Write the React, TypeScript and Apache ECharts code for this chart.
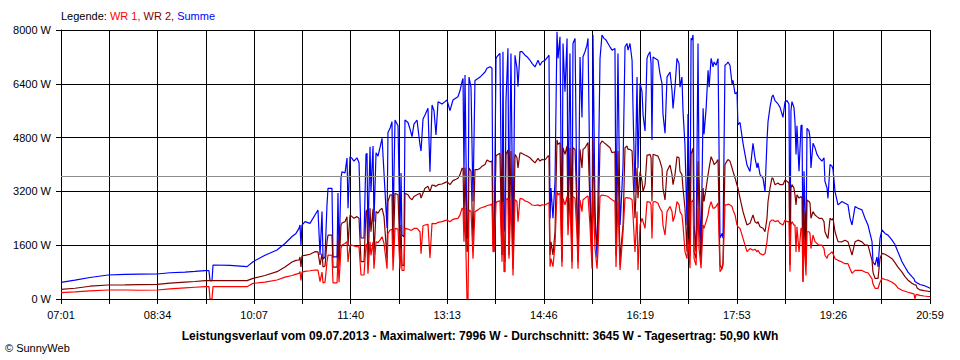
import React, { useEffect, useRef } from "react";
import * as echarts from "echarts";

// minutes after 07:01
const minutes = [
  0, 13.5, 28.0, 45.3, 61.7, 76.2, 92.6, 105.1, 119.6, 129.2,
  138.9, 142.7, 143.7, 145.6, 146.6, 163.0, 179.4, 185.2, 196.7, 208.3,
  216.0, 222.8, 226.6, 229.5, 230.5, 231.4, 232.4, 235.3, 240.1, 244.9,
  247.8, 249.8, 251.7, 252.7, 254.6, 256.5, 257.5, 261.3, 262.3, 266.2,
  267.1, 268.1, 270.0, 271.0, 273.9, 275.8, 276.8, 278.7, 280.6, 282.5,
  285.4, 287.4, 289.3, 292.2, 294.1, 295.1, 296.0, 298.0, 298.9, 300.9,
  301.8, 303.8, 305.7, 307.6, 309.6, 311.5, 314.4, 315.3, 317.3, 319.2,
  320.2, 322.1, 325.0, 326.9, 327.9, 328.8, 330.8, 331.7, 334.6, 336.6,
  338.5, 340.4, 343.3, 346.2, 347.2, 349.1, 351.0, 353.9, 355.8, 357.8,
  359.7, 361.6, 363.6, 367.4, 370.3, 372.2, 375.1, 378.0, 380.9, 382.8,
  384.8, 386.7, 387.7, 388.6, 389.6, 391.5, 392.5, 393.4, 395.4, 397.3,
  399.2, 402.1, 404.1, 406.0, 408.9, 410.8, 413.7, 415.6, 416.6, 417.6,
  419.5, 420.4, 423.3, 425.3, 426.2, 427.2, 428.2, 429.1, 431.0, 432.0,
  433.9, 435.9, 437.8, 439.7, 440.7, 442.6, 444.6, 447.4, 449.4, 452.3,
  454.2, 457.1, 460.0, 461.9, 463.8, 466.7, 469.6, 470.6, 471.6, 472.5,
  474.4, 476.4, 478.3, 479.3, 481.2, 483.1, 484.1, 486.0, 488.0, 488.9,
  490.8, 492.8, 493.7, 495.7, 497.6, 498.6, 500.5, 502.4, 503.4, 505.3,
  507.2, 508.2, 510.1, 512.1, 513.0, 515.0, 516.9, 517.8, 519.8, 521.7,
  523.6, 525.6, 527.5, 529.4, 531.4, 534.2, 535.2, 537.1, 539.1, 540.0,
  542.0, 543.9, 545.8, 546.8, 548.7, 550.7, 551.6, 553.5, 555.5, 556.4,
  558.4, 560.3, 561.3, 563.2, 565.1, 566.1, 568.0, 569.0, 569.9, 570.9,
  572.8, 575.7, 577.6, 579.6, 580.5, 582.5, 584.4, 587.3, 589.2, 590.2,
  592.1, 594.0, 596.0, 596.9, 598.8, 599.8, 601.7, 603.7, 604.6, 606.6,
  607.6, 608.5, 609.5, 610.5, 612.4, 614.3, 615.3, 617.2, 619.2, 620.1,
  622.1, 624.0, 625.0, 626.9, 628.8, 629.8, 631.7, 632.6, 633.6, 635.5,
  637.4, 638.4, 640.3, 642.2, 643.2, 645.1, 647.1, 648.0, 650.0, 651.9,
  652.8, 654.8, 657.7, 659.6, 661.5, 664.4, 667.3, 669.2, 671.2, 672.1,
  674.1, 677.0, 678.9, 680.8, 681.8, 683.7, 685.6, 686.6, 688.5, 691.4,
  693.4, 696.2, 698.2, 700.1, 702.0, 703.0, 703.9, 704.9, 706.8, 707.8,
  708.8, 709.7, 711.7, 713.6, 714.6, 715.5, 716.5, 718.4, 719.4, 721.3,
  722.3, 723.2, 725.2, 727.1, 729.0, 731.0, 733.8, 735.8, 736.7, 738.7,
  739.6, 741.6, 743.5, 744.5, 746.4, 749.3, 753.1, 756.0, 758.9, 760.9,
  762.8, 765.7, 768.6, 772.4, 775.3, 778.2, 782.1, 783.0, 785.0, 786.9,
  787.9, 789.8, 791.7, 794.6, 797.5, 801.4, 804.2, 807.1, 811.0, 813.9,
  816.8, 820.6, 822.6, 823.5, 824.5, 825.5, 828.4, 832.2, 836.1, 838.0,
];

const wr1 = [
  188, 210, 240, 268, 268, 260, 268, 300, 330, 350,
  367, 367, 0, 0, 367, 367, 367, 466, 500, 565,
  650, 700, 740, 763, 813, 550, 800, 820, 840, 862,
  860, 515, 800, 480, 500, 1100, 1308, 1300, 480, 480,
  1200, 500, 1500, 1606, 1650, 1705, 1100, 1606, 1600, 1580,
  1560, 1550, 714, 714, 1600, 1650, 750, 1705, 1300, 1700,
  900, 1700, 1680, 1750, 1853, 1650, 900, 1950, 2052, 2070,
  850, 2100, 2080, 900, 1500, 850, 850, 2102, 2080, 2050,
  2050, 2100, 2102, 2000, 1350, 2180, 2200, 2220, 1220, 2250,
  2240, 2240, 2280, 2300, 2330, 2349, 2300, 2370, 2390, 2399,
  2500, 2697, 2697, 1700, 2700, 0, 0, 2650, 2600, 1200,
  2600, 2650, 2700, 2720, 2746, 2780, 2800, 2820, 1407, 1407,
  2850, 2894, 2920, 1110, 2900, 813, 813, 2950, 2994, 1200,
  2950, 700, 2950, 2900, 2300, 2990, 2980, 2920, 2900, 2850,
  2796, 2780, 2800, 2770, 2800, 2796, 2850, 2860, 962, 1200,
  962, 1600, 3192, 3100, 3150, 962, 3000, 2800, 3050, 1900,
  3000, 900, 3050, 3000, 1900, 900, 2950, 2600, 2950, 3000,
  3050, 3060, 2200, 900, 3192, 1500, 900, 1400, 3050, 3093,
  3080, 3070, 3050, 3000, 2950, 2900, 950, 2900, 862, 1200,
  2000, 3000, 3020, 3000, 3000, 2950, 2500, 1400, 2600, 862,
  2200, 2400, 2300, 2100, 2894, 2890, 2880, 2800, 1800, 2880,
  2900, 2850, 2700, 2600, 2200, 1903, 2600, 2750, 2600, 2300,
  2500, 2894, 2800, 2600, 2500, 2200, 1407, 1200, 1800, 913,
  2900, 2900, 2950, 1200, 1000, 2700, 1500, 913, 2200, 2100,
  2300, 2500, 2700, 2894, 2700, 2700, 2750, 2800, 2850, 813,
  900, 1000, 2800, 2800, 2820, 2800, 2750, 2650, 2500, 2200,
  2150, 2100, 1804, 1600, 1407, 1500, 1450, 1480, 1400, 1450,
  1350, 1308, 1350, 1700, 2000, 2300, 2350, 2349, 2300, 2330,
  2250, 2200, 2349, 2300, 2300, 813, 2200, 2300, 2200, 2200,
  1400, 2150, 1400, 2100, 2100, 515, 1800, 700, 2000, 2000,
  1950, 1500, 1900, 1705, 1650, 1600, 1600, 1500, 1300, 1209,
  1300, 1350, 1400, 1350, 1200, 1150, 1100, 1050, 1050, 900,
  763, 850, 850, 850, 800, 780, 600, 450, 318, 318,
  318, 500, 615, 580, 560, 500, 440, 330, 260, 230,
  200, 169, 150, 0, 130, 130, 110, 90, 75, 69,
];

const wr2 = [
  288, 320, 380, 416, 420, 430, 436, 470, 500, 520,
  545, 545, 545, 545, 545, 545, 545, 615, 700, 813,
  950, 1100, 1150, 1160, 1250, 950, 1280, 1300, 1330, 1407,
  1400, 1011, 1350, 950, 980, 1700, 1903, 1900, 950, 950,
  1800, 960, 2200, 2260, 2300, 2448, 1600, 2498, 2450, 2400,
  2450, 2400, 1110, 1110, 2600, 2650, 1050, 2697, 2000, 2680,
  1300, 2600, 2550, 2650, 2697, 2450, 1200, 2900, 3093, 3100,
  1250, 3143, 3100, 1300, 2200, 1000, 1000, 3143, 3100, 3000,
  2950, 3050, 3100, 3143, 3000, 3150, 3292, 3350, 3192, 3390,
  3380, 3350, 3400, 3420, 3460, 3489, 3400, 3520, 3560, 3589,
  3700, 3886, 3886, 2300, 3900, 1407, 1450, 3900, 3800, 1700,
  3850, 3850, 3886, 3950, 4000, 4134, 4080, 4100, 1600, 1500,
  4250, 4283, 4330, 1308, 4350, 1400, 1100, 4300, 4431, 1300,
  4400, 900, 4300, 4200, 3900, 4350, 4330, 4283, 4250, 4200,
  4134, 4050, 4180, 4100, 4150, 4134, 4250, 4260, 1308, 1700,
  1308, 2000, 4729, 4600, 4650, 1110, 4500, 4300, 4550, 2200,
  4500, 1100, 4500, 4450, 2600, 1100, 4450, 3900, 4450, 4500,
  4600, 4650, 2800, 1308, 4779, 2200, 1600, 1800, 4600, 4700,
  4650, 4600, 4550, 4500, 4350, 4380, 1300, 4400, 1011, 1500,
  2200, 4500, 4550, 4450, 4450, 4400, 3700, 2400, 3900, 3000,
  3786, 3500, 3192, 3400, 4283, 4280, 4300, 4200, 2900, 4300,
  4283, 4250, 4100, 3886, 3300, 2944, 3800, 3985, 3700, 3400,
  3700, 4233, 4200, 3800, 3700, 3300, 2700, 1407, 3200, 1300,
  4300, 4400, 4481, 1400, 1200, 4100, 2300, 1100, 3300, 2900,
  3300, 3700, 3900, 4233, 4100, 4000, 4050, 4100, 4150, 1011,
  900, 1100, 4000, 4100, 4150, 4100, 3900, 3800, 3600, 3390,
  3300, 3000, 2596, 2400, 2200, 2250, 2500, 2300, 2250, 2300,
  2150, 2102, 2000, 2400, 2900, 3300, 3600, 3589, 3400, 3450,
  3400, 3400, 3539, 3500, 3450, 1011, 3300, 3400, 3300, 3093,
  2800, 3100, 3000, 3050, 3000, 515, 2600, 1000, 2944, 2900,
  2850, 2400, 2600, 2498, 2450, 2400, 2400, 2300, 2000, 1850,
  1804, 2400, 2350, 2400, 2000, 1705, 1700, 1750, 1700, 1500,
  1308, 1700, 1750, 1700, 1600, 1600, 1150, 800, 615, 615,
  615, 1200, 1358, 1330, 1280, 1200, 1080, 950, 800, 664,
  560, 470, 430, 420, 420, 330, 270, 250, 230, 218,
];

const summe = [
  496, 560, 640, 714, 730, 740, 744, 780, 800, 820,
  842, 842, 545, 545, 1011, 1000, 962, 1110, 1300, 1457,
  1650, 1860, 1950, 2100, 2200, 1600, 2200, 2300, 2250, 2498,
  2647, 1308, 2600, 1189, 1250, 2800, 3292, 3292, 1250, 1250,
  3150, 1250, 3600, 3786, 3750, 4193, 2700, 4233, 4183, 4100,
  4200, 4050, 1814, 1814, 4300, 4332, 1814, 4530, 3200, 4550,
  2300, 4350, 4250, 4500, 4779, 3737, 2111, 4950, 5076, 5274,
  2150, 5324, 5150, 2002, 3750, 1900, 1850, 5324, 5250, 5050,
  4827, 5200, 5324, 4580, 4400, 5350, 5472, 5670, 3786, 5769,
  5600, 4877, 5868, 5800, 5870, 5918, 5600, 5918, 5980, 6016,
  6200, 6462, 6560, 3688, 6661, 1814, 1814, 6600, 6300, 2900,
  6500, 6560, 6600, 6660, 6750, 6860, 6909, 6860, 2002, 1407,
  7150, 7206, 7306, 1308, 7350, 2200, 2000, 5868, 7455, 2102,
  7300, 1606, 7250, 6860, 6313, 7355, 7355, 7250, 7206, 7100,
  7009, 6900, 7100, 6950, 7050, 7100, 7206, 7250, 2399, 3300,
  2399, 3500, 7950, 7157, 7800, 1220, 7600, 6165, 7750, 2596,
  7300, 1220, 7600, 7750, 2600, 1220, 7200, 5400, 7206, 7355,
  7550, 7750, 3390, 1220, 7850, 2596, 1220, 2900, 7157, 7850,
  7750, 7700, 7600, 7500, 7400, 7450, 2200, 7300, 2200, 2700,
  3985, 7500, 7600, 7400, 7600, 7100, 5680, 3192, 6600, 3886,
  6413, 6165, 5472, 5000, 7157, 7250, 7355, 7000, 4729, 7200,
  7157, 7100, 6700, 6400, 5500, 4928, 6600, 6750, 6200, 5670,
  6300, 7157, 7000, 6300, 6600, 5600, 4580, 2200, 5500, 2200,
  7753, 7700, 7852, 2200, 1407, 7600, 3600, 1407, 5670, 4900,
  5670, 6800, 6300, 7157, 6900, 7050, 6950, 7050, 7150, 1814,
  1950, 1814, 6950, 7000, 7050, 6950, 6400, 6500, 6100, 6150,
  5175, 5250, 4630, 4300, 3985, 3790, 4630, 4200, 3900, 4050,
  3700, 3589, 3200, 4700, 5274, 5700, 6016, 6065, 5900, 5800,
  5700, 5400, 5868, 5900, 5800, 1300, 5600, 5868, 5700, 5274,
  4300, 5150, 3800, 5150, 5175, 1200, 3800, 1400, 5076, 5000,
  4800, 3900, 4630, 4500, 4300, 4200, 4100, 4200, 3500, 3300,
  2994, 4000, 3950, 3850, 3192, 2800, 2900, 2850, 2800, 2400,
  2200, 2750, 2700, 2650, 2400, 2200, 1705, 1100, 1011, 1250,
  950, 1800, 2052, 1950, 1900, 1750, 1620, 1400, 1110, 950,
  800, 664, 600, 520, 500, 480, 430, 400, 350, 318,
];

const xTickLabels = ["07:01", "08:34", "10:07", "11:40", "13:13", "14:46", "16:19", "17:53", "19:26", "20:59"];
const daySpanMinutes = 838;
const gridSteps = 18;
const yMax = 8000;
const yInterval = 1600;
const durchschnitt = 3645;
const titleText =
  "Leistungsverlauf vom 09.07.2013 - Maximalwert: 7996 W - Durchschnitt: 3645 W - Tagesertrag: 50,90 kWh";

const FONT = "'Liberation Sans', Arial, sans-serif";

export default function App() {
  const ref = useRef<HTMLDivElement>(null);

  useEffect(() => {
    document.body.style.margin = "0";
    const chart = echarts.init(ref.current!, null, { renderer: "svg" });
    const step = daySpanMinutes / gridSteps;
    const pairs = (vals: number[]) => minutes.map((m, i) => [m, vals[i]]);

    chart.setOption({
      animation: false,
      backgroundColor: "#ffffff",
      grid: { left: 61, right: 30, top: 30, bottom: 61 },
      xAxis: {
        type: "value",
        min: 0,
        max: daySpanMinutes,
        interval: step,
        axisLine: { show: true, lineStyle: { color: "#000", width: 1 } },
        axisTick: { show: true, length: 5, lineStyle: { color: "#000" } },
        splitLine: { show: true, lineStyle: { color: "#000", width: 1 } },
        axisLabel: {
          color: "#000",
          fontSize: 11,
          fontFamily: FONT,
          margin: 10,
          showMinLabel: true,
          showMaxLabel: true,
          formatter: (v: number) => {
            const i = Math.round(v / step);
            return i % 2 === 0 ? xTickLabels[i / 2] ?? "" : "";
          },
        },
      },
      yAxis: {
        type: "value",
        min: 0,
        max: yMax,
        interval: yInterval,
        axisLine: { show: true, lineStyle: { color: "#000", width: 1 } },
        axisTick: { show: true, length: 5, lineStyle: { color: "#000" } },
        splitLine: { show: true, lineStyle: { color: "#000", width: 1 } },
        axisLabel: {
          color: "#000",
          fontSize: 11,
          fontFamily: FONT,
          margin: 10,
          formatter: (v: number) => `${v} W`,
        },
      },
      series: [
        {
          name: "Summe",
          type: "line",
          data: pairs(summe),
          showSymbol: false,
          lineStyle: { color: "#0000ff", width: 1.2 },
          itemStyle: { color: "#0000ff" },
          z: 3,
          markLine: {
            silent: true,
            symbol: "none",
            label: { show: false },
            lineStyle: { color: "#8c8c8c", type: "solid", width: 1 },
            data: [{ yAxis: durchschnitt }],
          },
        },
        {
          name: "WR 2",
          type: "line",
          data: pairs(wr2),
          showSymbol: false,
          lineStyle: { color: "#800000", width: 1.2 },
          itemStyle: { color: "#800000" },
          z: 4,
        },
        {
          name: "WR 1",
          type: "line",
          data: pairs(wr1),
          showSymbol: false,
          lineStyle: { color: "#ff0000", width: 1.2 },
          itemStyle: { color: "#ff0000" },
          z: 5,
        },
      ],
      graphic: [
        {
          type: "text",
          left: 61,
          top: 10,
          style: {
            text: "{k|Legende: }{a|WR 1, }{b|WR 2, }{c|Summe}",
            font: `11px ${FONT}`,
            rich: {
              k: { fill: "#000", fontSize: 11, fontFamily: FONT },
              a: { fill: "#ff0000", fontSize: 11, fontFamily: FONT },
              b: { fill: "#800000", fontSize: 11, fontFamily: FONT },
              c: { fill: "#0000ff", fontSize: 11, fontFamily: FONT },
            },
          },
        },
        {
          type: "text",
          left: "center",
          top: 330,
          style: {
            text: titleText,
            fill: "#000",
            font: `bold 12px ${FONT}`,
          },
        },
        {
          type: "text",
          left: 5,
          top: 342,
          style: {
            text: "© SunnyWeb",
            fill: "#000",
            font: `11px ${FONT}`,
          },
        },
      ],
    });

    return () => chart.dispose();
  }, []);

  return <div ref={ref} style={{ width: 960, height: 360 }} />;
}
